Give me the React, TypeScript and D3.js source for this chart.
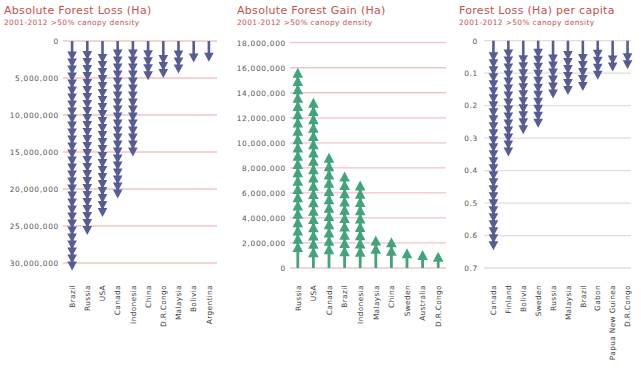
import * as d3 from "d3";

const lossCountries = ["Brazil", "Russia", "USA", "Canada", "Indonesia", "China", "D.R.Congo", "Malaysia", "Bolivia", "Argentina"];
const lossValues = [31e6, 26.2e6, 23.8e6, 21.3e6, 15.6e6, 5.3e6, 5.0e6, 4.4e6, 2.9e6, 2.8e6];
const lossTicks = [0, 5e6, 10e6, 15e6, 20e6, 25e6, 30e6];

const gainCountries = ["Russia", "USA", "Canada", "Brazil", "Indonesia", "Malaysia", "China", "Sweden", "Australia", "D.R.Congo"];
const gainValues = [16e6, 13.6e6, 9.2e6, 7.7e6, 7.0e6, 2.6e6, 2.45e6, 1.57e6, 1.44e6, 1.3e6];
const gainTicks = [0, 2e6, 4e6, 6e6, 8e6, 10e6, 12e6, 14e6, 16e6, 18e6];

const capitaCountries = ["Canada", "Finland", "Bolivia", "Sweden", "Russia", "Malaysia", "Brazil", "Gabon", "Papua New Guinea", "D.R.Congo"];
const capitaValues = [0.645, 0.357, 0.288, 0.268, 0.178, 0.167, 0.155, 0.12, 0.095, 0.088];
const capitaTicks = [0, 0.1, 0.2, 0.3, 0.4, 0.5, 0.6, 0.7];

const SUBTITLE = "2001-2012 >50% canopy density";
const RED = "#c4514f";
const FONT = "'DejaVu Sans', sans-serif";
const ARROW = "#575c94";
const TREE = "#42a47b";

type PanelProps = {
  title: string;
  titleX: number;
  categories: string[];
  values: number[];
  ticks: number[];
  fmt: (v: number) => string;
  xRange: [number, number];
  gridRange: [number, number];
  yRange: [number, number];
  labelX: number;
  gridColor: string;
  up: boolean;
};

function DownArrow({ x, y0, tip }: { x: number; y0: number; tip: number }) {
  const heads: number[] = [];
  for (let t = tip; t - 9 >= y0 + 8; t -= 7) heads.push(t);
  if (heads.length === 0) heads.push(tip);
  return (
    <g fill={ARROW}>
      <rect x={x - 1.3} y={y0} width={2.6} height={Math.max(0, tip - 4 - y0)} />
      {heads.map((t, i) => (
        <polygon key={i} points={`${x - 4.8},${t - 9} ${x + 4.8},${t - 9} ${x},${t}`} />
      ))}
    </g>
  );
}

function Tree({ x, y0, tip }: { x: number; y0: number; tip: number }) {
  const layers: number[] = [];
  for (let t = tip; t + 10 <= y0 - 9; t += 8.3) layers.push(t);
  if (layers.length === 0) layers.push(tip);
  return (
    <g fill={TREE}>
      <rect x={x - 1.4} y={tip + 5} width={2.8} height={Math.max(0, y0 - tip - 5)} />
      {layers.map((t, i) => (
        <polygon key={i} points={`${x},${t} ${x - 5.3},${t + 10} ${x + 5.3},${t + 10}`} />
      ))}
    </g>
  );
}

function Panel(p: PanelProps) {
  const x = d3.scaleBand<string>().domain(p.categories).range(p.xRange);
  const y = d3.scaleLinear().domain([0, p.ticks[p.ticks.length - 1]]).range(p.yRange);
  const y0 = y(0);
  return (
    <g>
      <text x={p.titleX} y={14} fill={RED} fontSize={11} letterSpacing={0.3} fontFamily={FONT}>
        {p.title}
      </text>
      <text x={p.titleX} y={24.5} fill={RED} fontSize={7.4} letterSpacing={0.4} fontFamily={FONT}>
        {SUBTITLE}
      </text>
      {p.ticks.map((t) => (
        <g key={t}>
          <line x1={p.gridRange[0]} x2={p.gridRange[1]} y1={y(t)} y2={y(t)} stroke={p.gridColor} strokeWidth={1.3} />
          <text x={p.labelX} y={y(t) + 2.8} textAnchor="end" fontSize={7.4} letterSpacing={0.7} fill="#555" fontFamily={FONT}>
            {p.fmt(t)}
          </text>
        </g>
      ))}
      {p.categories.map((c, i) => {
        const cx = (x(c) ?? 0) + x.bandwidth() / 2;
        const tip = y(p.values[i]);
        return (
          <g key={c}>
            {p.up ? <Tree x={cx} y0={y0} tip={tip} /> : <DownArrow x={cx} y0={y0} tip={tip} />}
            <text
              transform={`translate(${cx + 2.7},285) rotate(-90)`}
              textAnchor="end"
              fontSize={7.4}
              letterSpacing={0.35}
              fill="#444"
              fontFamily={FONT}
            >
              {c}
            </text>
          </g>
        );
      })}
    </g>
  );
}

const big = d3.format(",");

export default function App() {
  return (
    <svg width={641} height={372} style={{ position: "absolute", left: 0, top: 0, background: "#fff" }}>
      <Panel
        title="Absolute Forest Loss (Ha)"
        titleX={4}
        categories={lossCountries}
        values={lossValues}
        ticks={lossTicks}
        fmt={big}
        xRange={[64.5, 216.5]}
        gridRange={[63, 217]}
        yRange={[41, 263]}
        labelX={59}
        gridColor="#f0c4c4"
        up={false}
      />
      <Panel
        title="Absolute Forest Gain (Ha)"
        titleX={237}
        categories={gainCountries}
        values={gainValues}
        ticks={gainTicks}
        fmt={big}
        xRange={[290, 446]}
        gridRange={[290, 446]}
        yRange={[268, 42.7]}
        labelX={286}
        gridColor="#f0c4c4"
        up={true}
      />
      <Panel
        title="Forest Loss (Ha) per capita"
        titleX={459}
        categories={capitaCountries}
        values={capitaValues}
        ticks={capitaTicks}
        fmt={(v) => (v === 0 ? "0" : d3.format(".1f")(v))}
        xRange={[486, 635]}
        gridRange={[484, 631]}
        yRange={[40.7, 268]}
        labelX={478}
        gridColor="#dedede"
        up={false}
      />
    </svg>
  );
}
